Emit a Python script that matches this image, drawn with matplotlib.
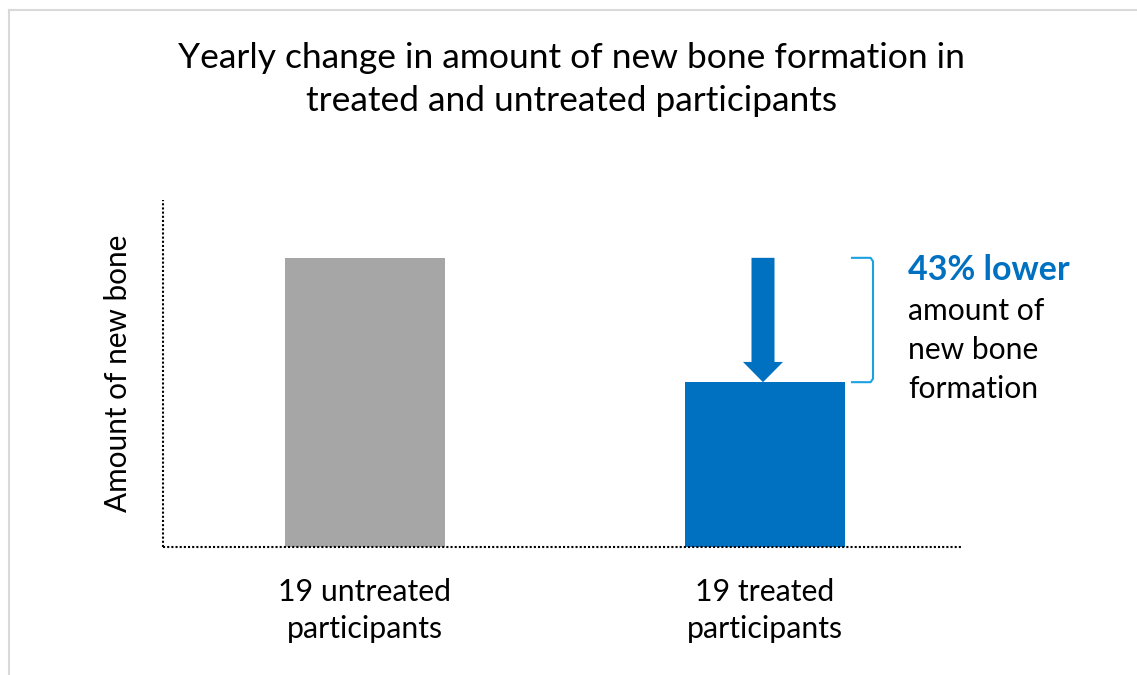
import matplotlib.pyplot as plt
from matplotlib.lines import Line2D

plt.rcParams["font.family"] = ["Lato", "DejaVu Sans"]

groups = ["19 untreated\nparticipants", "19 treated\nparticipants"]
new_bone = [100, 57]
bar_colors = ["#A6A6A6", "#0070C0"]
title = "Yearly change in amount of new bone formation in\ntreated and untreated participants"
y_label = "Amount of new bone"
note_head = "43% lower"
note_body = "amount of\nnew bone\nformation"

fig = plt.figure(figsize=(11.37, 6.75), dpi=100)
ax = fig.add_axes([163 / 1137, 128 / 675, 800 / 1137, 347 / 675])

x = list(range(len(groups)))
ax.bar(x, new_bone, width=0.4, color=bar_colors)
ax.set_xlim(-0.505, 1.495)
ax.set_ylim(0, 120)

# dotted axes drawn as lines, no ticks
for side in ["top", "right", "left", "bottom"]:
    ax.spines[side].set_visible(False)
ax.axhline(0, color="black", linewidth=1.5, linestyle=(0, (1, 1)), clip_on=False)
ax.axvline(-0.505, color="black", linewidth=1.5, linestyle=(0, (1, 1)), clip_on=False)
ax.set_yticks([])
ax.set_xticks(x)
ax.set_xticklabels(groups, fontsize=21.8, linespacing=1.43)
ax.tick_params(axis="x", length=0, pad=22)
ax.set_ylabel(y_label, fontsize=21.4, labelpad=22)

# arrow from untreated level down to treated level
ax.arrow(x[1] - 0.005, new_bone[0], 0, -(new_bone[0] - new_bone[1]), width=0.0575, head_width=0.1,
         head_length=7, length_includes_head=True, color="#0070C0", linewidth=0)

# bracket on the right
bx0, bx1, r = 1.2175, 1.27, 1.2
ax.plot([bx0, bx1 - 0.006, bx1, bx1, bx1 - 0.006, bx0],
        [new_bone[0], new_bone[0], new_bone[0] - r, new_bone[1] + r, new_bone[1], new_bone[1]],
        color="#1BA1E2", linewidth=1.5, clip_on=False, solid_joinstyle="round")

ax.text(1.357, 95.7, note_head, fontsize=24.5, fontweight="bold", color="#0070C0", va="center", ha="left")
ax.text(1.357, 86.5, note_body, fontsize=21.6, color="black", va="top", ha="left", linespacing=1.48)

fig.text(0.503, 1 - 79.5 / 675, title, fontsize=25.5, ha="center", va="center", linespacing=1.46)

# light frame at top and left
fig.add_artist(Line2D([8.5 / 1137, 8.5 / 1137], [0, 1 - 9.5 / 675], transform=fig.transFigure, color="#D9D9D9", linewidth=1.5))
fig.add_artist(Line2D([8.5 / 1137, 1], [1 - 9.5 / 675, 1 - 9.5 / 675], transform=fig.transFigure, color="#D9D9D9", linewidth=1.5))

plt.savefig("out.png", dpi=100)
